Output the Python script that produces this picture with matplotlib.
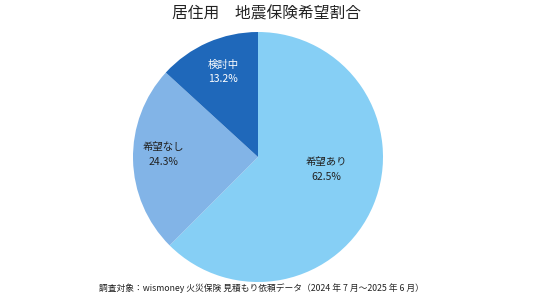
import matplotlib.pyplot as plt

plt.rcParams['font.family'] = ['Noto Sans CJK JP', 'DejaVu Sans']

categories = ['希望あり', '希望なし', '検討中']
values = [62.5, 24.3, 13.2]
colors = ['#86CFF5', '#82B4E7', '#1F68BA']
text_colors = ['#222222', '#222222', '#FFFFFF']
label_pos = [(0.55, -0.10), (-0.76, 0.02), (-0.28, 0.68)]

fig = plt.figure(figsize=(5.36, 3.02), dpi=100)
ax = fig.add_axes([133/536, 20/302, 250/536, 250/302])
ax.pie(values, colors=colors, startangle=90, counterclock=False, radius=1.0,
       wedgeprops=dict(linewidth=0))
ax.set_xlim(-1, 1)
ax.set_ylim(-1, 1)
ax.set_aspect('equal')
ax.axis('off')

for cat, v, tc, (x, y) in zip(categories, values, text_colors, label_pos):
    ax.text(x, y, f'{cat}\n{v:.1f}%', ha='center', va='center', fontsize=7.5,
            color=tc, linespacing=1.6)

fig.text(0.498, 0.955, '居住用　地震保険希望割合', ha='center', va='center',
         fontsize=11.3, color='#222222')
fig.text(0.488, 0.047, '調査対象：wismoney 火災保険 見積もり依頼データ（2024 年 7 月～2025 年 6 月）',
         ha='center', va='center', fontsize=6.3, color='#222222')

fig.savefig('out.png', dpi=100)
